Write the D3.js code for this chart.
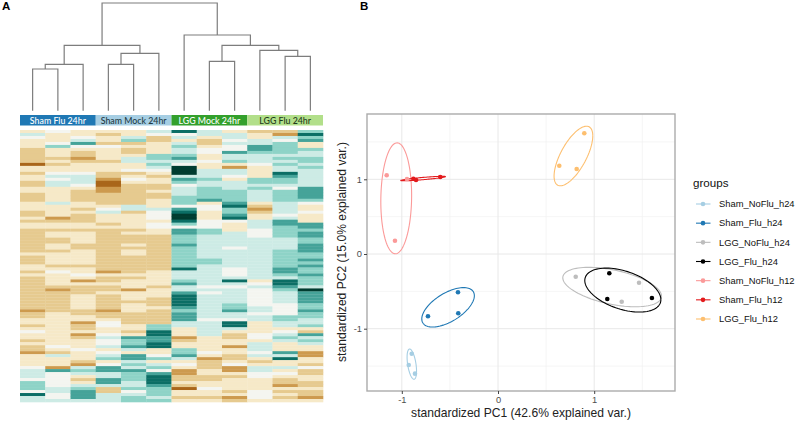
<!DOCTYPE html>
<html><head><meta charset="utf-8">
<script src="https://cdn.jsdelivr.net/npm/d3@7"></script>
<style>html,body{margin:0;padding:0;background:#fff}svg{display:block}text{font-family:"Liberation Sans",Arial,sans-serif}</style>
</head><body><svg id="c" width="797" height="421"></svg>
<script>
// ---------- Panel A data ----------
const annotationLabels = ["Sham Flu 24hr","Sham Mock 24hr","LGG Mock 24hr","LGG Flu 24hr"];
const annotationColors = ["#1f78b4","#a6cee3","#33a02c","#b2df8a"];
const annotationTextColors = ["#ffffff","#1f3a44","#ffffff","#1f3a1a"];
// one string per sample, one digit per gene row: 0 = deepest brown ... 9 = deepest teal
const heatColumns = [
 "3543332222203323"+"32233222333223233"+"22222222322233232"+"22222222221223323"+"4332322133334"+"55546664855",
 "4333463332323345"+"45533333533331233"+"23322332333323433"+"33212222222333333"+"3333343253331"+"74444455445",
 "3345743221233345"+"55432222332322233"+"23333223333323343"+"13222333332233122"+"3123334333215"+"65323567775",
 "3233243333233322"+"10011222234533323"+"22222222222222132"+"23223222221223443"+"3454453456347"+"75577522555",
 "3356232235533423"+"43222222255233333"+"23222323322222232"+"33313332333222233"+"2376675377565"+"76665564566",
 "5422333366565432"+"33223223335444344"+"33222222222222333"+"33233322232222266"+"8877883346356"+"47888766656",
 "8453565567549995"+"76455566647899864"+"77666766666668555"+"67557888876777553"+"3312336675343"+"11223203323",
 "5532234433433555"+"65566667344333444"+"66555555556655555"+"55454555555554555"+"5533333431222"+"33223343323",
 "3554544755631554"+"35556666786678433"+"35555545555554445"+"85455555667554885"+"3223313322341"+"13233332312",
 "2335577655543333"+"66565555321233555"+"44455555555555555"+"34544444455455333"+"3443555453235"+"54433334443",
 "2154666656565587"+"66546666555545776"+"66655556666667765"+"88765555444466553"+"4565333758335"+"34322132323",
 "6867336556656555"+"55577776433433377"+"67766777667676676"+"66597777667665563"+"2756533113324"+"22332232213"
];
const levelColors = ["#a9661a","#cd9a4e","#e6ca8f","#f6e9c8","#f4f5f0","#cdebe5","#8ed3c7","#45a399","#0b6e65","#003c30"];
// dendrogram merges, bottom up: children are leaf numbers or "m" + merge index
const dendroMerges = [
 {a:0,b:1,h:3.87},{a:"m0",b:2,h:4.31},{a:3,b:4,h:4.31},{a:"m2",b:5,h:5.33},{a:"m1",b:"m3",h:6.07},
 {a:10,b:11,h:5.04},{a:9,b:"m5",h:5.61},{a:7,b:8,h:4.58},{a:"m7",b:"m6",h:6.07},{a:6,b:"m8",h:7.03},{a:"m4",b:"m9",h:10}
];
// ---------- Panel B data ----------
const groupNames = ["Sham_NoFlu_h24","Sham_Flu_h24","LGG_NoFlu_h24","LGG_Flu_h24","Sham_NoFlu_h12","Sham_Flu_h12","LGG_Flu_h12"];
const groupColors = ["#a6cee3","#1f78b4","#bdbdbd","#000000","#fb9a99","#e31a1c","#fdbf6f"];
const pc1Values = [
 [-0.897,-0.928,-0.863],[-0.416,-0.413,-0.728],[0.808,1.466,1.286],[1.157,1.136,1.60],
 [-1.157,-1.071,-0.946],[-0.880,-0.852,-0.600],[0.897,0.637,0.818]];
const pc2Values = [
 [-1.335,-1.486,-1.602],[-0.513,-0.794,-0.834],[-0.304,-0.384,-0.639],[-0.258,-0.602,-0.589],
 [1.054,0.178,1.004],[1.008,0.991,1.031],[1.616,1.182,1.138]];
const xMajor = [-1,0,1], xMinor = [-0.5,0.5,1.5];
const yMajor = [-1,0,1], yMinor = [-1.5,-0.5,0.5,1.5];

// ---------- Drawing ----------
const svg = d3.select("#c");
svg.append("text").attr("x",2).attr("y",10).attr("font-size",11.5).attr("font-weight","bold").text("A");
svg.append("text").attr("x",360).attr("y",10).attr("font-size",11.5).attr("font-weight","bold").text("B");

// Heatmap
const nRows = heatColumns[0].length;
const colX = d3.scaleBand().domain(d3.range(12)).range([20,323]);
const rowY = d3.scaleBand().domain(d3.range(nRows)).range([130,402]);
const levelColor = d3.scaleOrdinal().domain(d3.range(10)).range(levelColors);
const cells = heatColumns.flatMap((s,c)=>Array.from(s,(v,r)=>({c,r,v:+v})));
svg.append("g").style("filter","blur(0.6px)").selectAll("rect").data(cells).join("rect")
  .attr("x",d=>colX(d.c)).attr("y",d=>rowY(d.r))
  .attr("width",colX.bandwidth()+0.3).attr("height",rowY.bandwidth()+0.3)
  .attr("fill",d=>levelColor(d.v));

// Annotation bar
const annX = d3.scaleBand().domain(d3.range(4)).range([20,323]);
const ann = svg.append("g");
ann.selectAll("rect").data(annotationLabels).join("rect")
  .attr("x",(d,i)=>annX(i)).attr("y",115).attr("width",annX.bandwidth()).attr("height",10.5)
  .attr("fill",(d,i)=>annotationColors[i]);
ann.selectAll("text").data(annotationLabels).join("text")
  .attr("x",(d,i)=>annX(i)+annX.bandwidth()/2).attr("y",123.5).attr("text-anchor","middle")
  .attr("font-size",8.8).style("font-family","Lato,sans-serif").attr("font-weight",500)
  .attr("fill",(d,i)=>annotationTextColors[i]).text(d=>d);

// Dendrogram
const hY = d3.scaleLinear().domain([0,10]).range([110.7,3]);
const nodePos = merges => {
  const out=[];
  const pos = k => typeof k==="number" ? {x:colX(k)+colX.bandwidth()/2,h:0} : out[+k.slice(1)];
  merges.forEach(m=>{const A=pos(m.a),B=pos(m.b);out.push({x:(A.x+B.x)/2,h:m.h,A,B});});
  return out;
};
svg.append("g").selectAll("path").data(nodePos(dendroMerges)).join("path")
  .attr("fill","none").attr("stroke","#7d7d7d").attr("stroke-width",1.2)
  .attr("d",d=>`M${d.A.x},${hY(d.A.h)}V${hY(d.h)}H${d.B.x}V${hY(d.B.h)}`);

// PCA panel
const L=367,R=675,T=114,B=391;
const x = d3.scaleLinear().domain([(L-498)/96.2,(R-498)/96.2]).range([L,R]);
const y = d3.scaleLinear().domain([(254-B)/74.7,(254-T)/74.7]).range([B,T]);
const grid = svg.append("g");
grid.append("g").selectAll("line").data(xMinor).join("line").attr("x1",x).attr("x2",x).attr("y1",T).attr("y2",B).attr("stroke","#f0f0f0").attr("stroke-width",.7);
grid.append("g").selectAll("line").data(yMinor).join("line").attr("y1",y).attr("y2",y).attr("x1",L).attr("x2",R).attr("stroke","#f0f0f0").attr("stroke-width",.7);
grid.append("g").selectAll("line").data(xMajor).join("line").attr("x1",x).attr("x2",x).attr("y1",T).attr("y2",B).attr("stroke","#e8e8e8").attr("stroke-width",1);
grid.append("g").selectAll("line").data(yMajor).join("line").attr("y1",y).attr("y2",y).attr("x1",L).attr("x2",R).attr("stroke","#e8e8e8").attr("stroke-width",1);

// 68% normal ellipse of each group's points
const chi = Math.sqrt(-2*Math.log(1-0.68));
const ellipse = (xs,ys)=>{
  const mx=d3.mean(xs),my=d3.mean(ys),n=xs.length-1;
  const sxx=d3.sum(xs,v=>(v-mx)**2)/n, syy=d3.sum(ys,v=>(v-my)**2)/n;
  const sxy=d3.sum(xs,(v,i)=>(v-mx)*(ys[i]-my))/n;
  const a=Math.sqrt(sxx),b=sxy/a,c=Math.sqrt(Math.max(syy-b*b,0));
  return d3.range(0,101).map(i=>{const t=i/100*2*Math.PI;
    return [mx+chi*a*Math.cos(t), my+chi*(b*Math.cos(t)+c*Math.sin(t))];});
};
const line = d3.line().x(d=>x(d[0])).y(d=>y(d[1]));
const layers = groupNames.map((g,i)=>i);
svg.append("g").selectAll("path").data(layers).join("path")
  .attr("fill","none").attr("stroke",i=>groupColors[i]).attr("stroke-width",1.1)
  .attr("d",i=>line(ellipse(pc1Values[i],pc2Values[i])));
svg.append("g").selectAll("circle")
  .data(layers.flatMap(i=>pc1Values[i].map((v,k)=>({i,px:v,py:pc2Values[i][k]}))))
  .join("circle").attr("cx",d=>x(d.px)).attr("cy",d=>y(d.py)).attr("r",2.3).attr("fill",d=>groupColors[d.i]);

svg.append("rect").attr("x",L).attr("y",T).attr("width",R-L).attr("height",B-T)
  .attr("fill","none").attr("stroke","#ababab").attr("stroke-width",1.4);

const fmt = d=>String(d);
const ax = svg.append("g").attr("transform",`translate(0,${B})`).call(d3.axisBottom(x).tickValues(xMajor).tickFormat(fmt).tickSize(3).tickPadding(2));
const ay = svg.append("g").attr("transform",`translate(${L},0)`).call(d3.axisLeft(y).tickValues(yMajor).tickFormat(fmt).tickSize(3).tickPadding(2));
[ax,ay].forEach(g=>{g.select(".domain").remove();g.selectAll("line").attr("stroke","#444");
  g.selectAll("text").attr("fill","#4d4d4d").attr("font-size",9.3);});
svg.append("text").attr("x",521).attr("y",417).attr("text-anchor","middle").attr("font-size",12.1).attr("fill","#222")
  .text("standardized PC1 (42.6% explained var.)");
svg.append("text").attr("transform","translate(346,252) rotate(-90)").attr("text-anchor","middle").attr("font-size",12.1).attr("fill","#222")
  .text("standardized PC2 (15.0% explained var.)");

// Legend
const legY = d3.scalePoint().domain(groupNames).range([204,319]);
svg.append("text").attr("x",693).attr("y",187).attr("font-size",11.6).attr("fill","#111").text("groups");
const leg = svg.append("g").selectAll("g").data(groupNames).join("g").attr("transform",d=>`translate(0,${legY(d)})`);
leg.append("line").attr("x1",696).attr("x2",710.5).attr("stroke",(d,i)=>groupColors[i]).attr("stroke-width",1.1);
leg.append("circle").attr("cx",703).attr("r",2.3).attr("fill",(d,i)=>groupColors[i]);
leg.append("text").attr("x",719).attr("y",3.3).attr("font-size",9.4).attr("fill","#111").text(d=>d);
</script></body></html>
